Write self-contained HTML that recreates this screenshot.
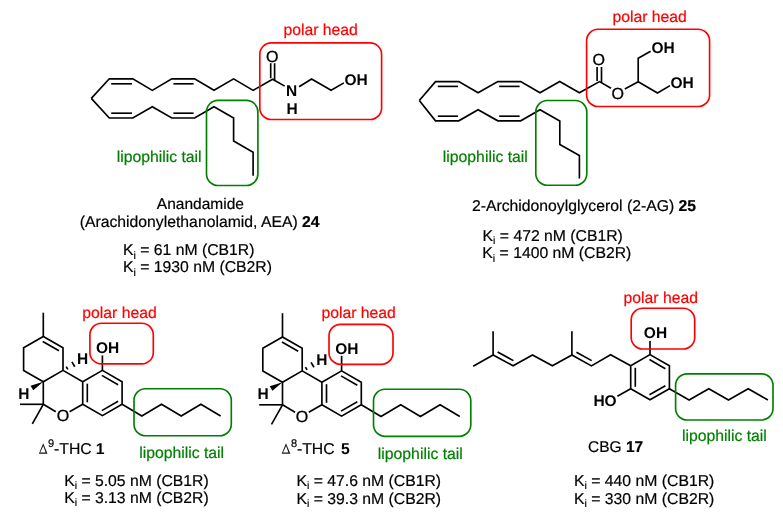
<!DOCTYPE html>
<html><head><meta charset="utf-8"><style>
html,body{margin:0;padding:0;background:#fff;}
svg{display:block;will-change:transform;}
text{font-family:"Liberation Sans", sans-serif;text-rendering:geometricPrecision;}
text.r{stroke-width:0.22px;}
</style></head><body>
<svg width="783" height="520" viewBox="0 0 783 520">
<rect width="783" height="520" fill="#fff"/>
<polyline points="91.30,98.40 109.30,78.80 132.80,78.80 152.30,90.40 171.80,78.80 194.60,78.80 214.00,90.30 233.60,78.90 253.10,90.40 272.60,79.20 284.70,86.10" fill="none" stroke="#000" stroke-width="1.65" stroke-linejoin="miter" stroke-miterlimit="10"/>
<line x1="111.20" y1="83.80" x2="132.00" y2="83.80" stroke="#000" stroke-width="1.65"/>
<line x1="173.40" y1="83.80" x2="193.60" y2="83.80" stroke="#000" stroke-width="1.65"/>
<polyline points="91.30,98.40 109.30,118.00 132.80,118.00 152.30,106.80 171.80,118.00 194.60,118.00 214.00,106.80 233.60,118.00 233.60,141.00 253.10,152.30 253.10,175.70" fill="none" stroke="#000" stroke-width="1.65" stroke-linejoin="miter" stroke-miterlimit="10"/>
<line x1="111.20" y1="113.20" x2="132.00" y2="113.20" stroke="#000" stroke-width="1.65"/>
<line x1="173.40" y1="113.20" x2="193.60" y2="113.20" stroke="#000" stroke-width="1.65"/>
<line x1="270.70" y1="63.20" x2="270.70" y2="78.20" stroke="#000" stroke-width="1.65"/>
<line x1="274.60" y1="63.20" x2="274.60" y2="80.40" stroke="#000" stroke-width="1.65"/>
<text x="266.00" y="61.60" font-size="16" fill="#000" font-weight="normal" stroke="#000" stroke-width="0.3">O</text>
<text x="286.00" y="95.60" font-size="15.5" fill="#000" font-weight="bold">N</text>
<text x="286.40" y="113.50" font-size="15.5" fill="#000" font-weight="bold">H</text>
<polyline points="299.10,86.80 311.60,79.00 331.10,90.30 343.90,82.90" fill="none" stroke="#000" stroke-width="1.65" stroke-linejoin="miter" stroke-miterlimit="10"/>
<text x="344.45" y="84.60" font-size="15.5" fill="#000" font-weight="bold">OH</text>
<rect x="259.80" y="42.90" width="121.80" height="76.60" rx="11.5" ry="11.5" fill="none" stroke="#ff0000" stroke-width="1.65"/>
<text x="283.40" y="34.80" font-size="15.75" fill="#ff0000" font-weight="normal" stroke="#ff0000" stroke-width="0.2">polar head</text>
<rect x="206.50" y="100.40" width="51.40" height="85.10" rx="11.5" ry="11.5" fill="none" stroke="#008000" stroke-width="1.65"/>
<text x="116.70" y="162.10" font-size="15.75" fill="#008000" font-weight="normal" stroke="#008000" stroke-width="0.2">lipophilic tail</text>
<text x="156.85" y="209.30" font-size="15.5" fill="#000" font-weight="normal" stroke="#000" stroke-width="0.2">Anandamide</text>
<text x="79.70" y="226.80" font-size="15.75" fill="#000" font-weight="normal" stroke="#000" stroke-width="0.2">(Arachidonylethanolamid, AEA) <tspan font-weight="bold">24</tspan></text>
<text x="122.95" y="255.30" font-size="15.75" fill="#000" font-weight="normal" stroke="#000" stroke-width="0.2">K<tspan font-size="10.5" dy="3.2">i</tspan><tspan dy="-3.2"> = 61 nM (CB1R)</tspan></text>
<text x="122.95" y="272.30" font-size="15.75" fill="#000" font-weight="normal" stroke="#000" stroke-width="0.2">K<tspan font-size="10.5" dy="3.2">i</tspan><tspan dy="-3.2"> = 1930 nM (CB2R)</tspan></text>
<polyline points="419.30,100.50 435.50,81.60 458.80,81.60 478.10,92.80 497.80,81.60 520.70,81.60 540.00,92.70 559.70,81.50 579.40,92.70 599.50,81.60 611.00,88.30" fill="none" stroke="#000" stroke-width="1.65" stroke-linejoin="miter" stroke-miterlimit="10"/>
<line x1="437.80" y1="86.40" x2="458.00" y2="86.40" stroke="#000" stroke-width="1.65"/>
<line x1="499.20" y1="86.40" x2="519.60" y2="86.40" stroke="#000" stroke-width="1.65"/>
<polyline points="419.30,100.50 435.50,120.80 458.80,120.80 478.10,109.70 497.80,120.80 520.70,120.80 540.00,109.70 559.80,121.00 559.80,144.50 579.40,155.50 579.40,178.60" fill="none" stroke="#000" stroke-width="1.65" stroke-linejoin="miter" stroke-miterlimit="10"/>
<line x1="437.80" y1="116.20" x2="458.00" y2="116.20" stroke="#000" stroke-width="1.65"/>
<line x1="499.20" y1="116.20" x2="519.60" y2="116.20" stroke="#000" stroke-width="1.65"/>
<line x1="597.10" y1="67.00" x2="597.10" y2="81.00" stroke="#000" stroke-width="1.65"/>
<line x1="601.50" y1="67.00" x2="601.50" y2="82.90" stroke="#000" stroke-width="1.65"/>
<text x="592.50" y="65.00" font-size="16" fill="#000" font-weight="normal" stroke="#000" stroke-width="0.3">O</text>
<text x="611.40" y="98.60" font-size="16" fill="#000" font-weight="normal" stroke="#000" stroke-width="0.3">O</text>
<polyline points="624.80,88.90 638.20,81.80 638.20,58.20 650.60,51.30" fill="none" stroke="#000" stroke-width="1.65" stroke-linejoin="miter" stroke-miterlimit="10"/>
<polyline points="638.20,81.80 657.50,93.00 670.00,85.60" fill="none" stroke="#000" stroke-width="1.65" stroke-linejoin="miter" stroke-miterlimit="10"/>
<text x="651.50" y="53.10" font-size="15.5" fill="#000" font-weight="bold">OH</text>
<text x="670.50" y="87.50" font-size="15.5" fill="#000" font-weight="bold">OH</text>
<rect x="586.60" y="29.20" width="123.00" height="77.30" rx="11.5" ry="11.5" fill="none" stroke="#ff0000" stroke-width="1.65"/>
<text x="612.40" y="22.10" font-size="15.75" fill="#ff0000" font-weight="normal" stroke="#ff0000" stroke-width="0.2">polar head</text>
<rect x="535.80" y="100.50" width="51.00" height="84.70" rx="11.5" ry="11.5" fill="none" stroke="#008000" stroke-width="1.65"/>
<text x="442.85" y="161.60" font-size="15.75" fill="#008000" font-weight="normal" stroke="#008000" stroke-width="0.2">lipophilic tail</text>
<text x="471.95" y="211.10" font-size="15.75" fill="#000" font-weight="normal" stroke="#000" stroke-width="0.2">2-Archidonoylglycerol (2-AG) <tspan font-weight="bold">25</tspan></text>
<text x="482.60" y="241.10" font-size="15.75" fill="#000" font-weight="normal" stroke="#000" stroke-width="0.2">K<tspan font-size="10.5" dy="3.2">i</tspan><tspan dy="-3.2"> = 472 nM (CB1R)</tspan></text>
<text x="482.35" y="258.40" font-size="15.75" fill="#000" font-weight="normal" stroke="#000" stroke-width="0.2">K<tspan font-size="10.5" dy="3.2">i</tspan><tspan dy="-3.2"> = 1400 nM (CB2R)</tspan></text>
<polyline points="63.00,370.40 63.00,347.80 43.30,336.50 23.60,347.80 23.60,370.40 43.30,381.70 63.00,370.40 82.70,381.70" fill="none" stroke="#000" stroke-width="1.65" stroke-linejoin="miter" stroke-miterlimit="10"/>
<line x1="42.75" y1="341.49" x2="58.98" y2="350.80" stroke="#000" stroke-width="1.65"/>
<line x1="43.30" y1="312.70" x2="43.30" y2="336.50" stroke="#000" stroke-width="1.65"/>
<polyline points="43.30,381.70 43.30,404.30" fill="none" stroke="#000" stroke-width="1.65" stroke-linejoin="miter" stroke-miterlimit="10"/>
<polyline points="55.80,411.80 43.30,404.30" fill="none" stroke="#000" stroke-width="1.65" stroke-linejoin="miter" stroke-miterlimit="10"/>
<polyline points="69.60,411.80 82.70,404.30" fill="none" stroke="#000" stroke-width="1.65" stroke-linejoin="miter" stroke-miterlimit="10"/>
<text x="56.65" y="421.00" font-size="16" fill="#000" font-weight="normal" stroke="#000" stroke-width="0.3">O</text>
<polyline points="82.70,381.70 102.40,370.40 122.10,381.70 122.10,404.30 102.40,415.60 82.70,404.30 82.70,381.70" fill="none" stroke="#000" stroke-width="1.65" stroke-linejoin="miter" stroke-miterlimit="10"/>
<line x1="87.30" y1="383.70" x2="87.30" y2="402.30" stroke="#000" stroke-width="1.65"/>
<line x1="101.85" y1="375.39" x2="118.08" y2="384.70" stroke="#000" stroke-width="1.65"/>
<line x1="118.08" y1="401.30" x2="101.85" y2="410.61" stroke="#000" stroke-width="1.65"/>
<line x1="20.00" y1="404.30" x2="43.30" y2="404.30" stroke="#000" stroke-width="1.65"/>
<line x1="43.30" y1="404.30" x2="32.30" y2="423.80" stroke="#000" stroke-width="1.65"/>
<line x1="102.40" y1="370.40" x2="102.40" y2="355.40" stroke="#000" stroke-width="1.65"/>
<text x="96.00" y="353.00" font-size="15.5" fill="#000" font-weight="bold">OH</text>
<polygon points="43.30,381.70 30.59,385.64 33.21,390.36" fill="#000"/>
<text x="18.20" y="398.80" font-size="15.5" fill="#000" font-weight="bold">H</text>
<line x1="66.23" y1="366.63" x2="67.86" y2="369.39" stroke="#000" stroke-width="1.7"/>
<line x1="71.90" y1="361.88" x2="74.75" y2="366.70" stroke="#000" stroke-width="1.7"/>
<text x="76.95" y="364.40" font-size="15.5" fill="#000" font-weight="bold">H</text>
<polyline points="122.10,404.30 141.80,416.00 161.50,404.20 181.20,416.00 200.90,404.20 220.60,416.00" fill="none" stroke="#000" stroke-width="1.65" stroke-linejoin="miter" stroke-miterlimit="10"/>
<rect x="89.90" y="323.20" width="63.40" height="40.70" rx="11.5" ry="11.5" fill="none" stroke="#ff0000" stroke-width="1.65"/>
<text x="82.30" y="317.70" font-size="15.75" fill="#ff0000" font-weight="normal" stroke="#ff0000" stroke-width="0.2">polar head</text>
<rect x="134.00" y="388.70" width="97.30" height="47.00" rx="11.5" ry="11.5" fill="none" stroke="#008000" stroke-width="1.65"/>
<text x="139.15" y="458.10" font-size="15.75" fill="#008000" font-weight="normal" stroke="#008000" stroke-width="0.2">lipophilic tail</text>
<path d="M38.90,453.70 L43.20,443.20 L47.50,453.70 Z M40.20,452.50 L45.60,452.50 L43.30,446.10 Z" fill="#000" fill-rule="evenodd" opacity="0.92"/>
<text x="48.10" y="447.30" font-size="11" fill="#000" font-weight="normal" stroke="#000" stroke-width="0.2">9</text>
<text x="54.10" y="453.80" font-size="15.75" fill="#000" font-weight="normal" stroke="#000" stroke-width="0.2">-THC</text>
<text x="95.85" y="453.80" font-size="15.75" fill="#000" font-weight="bold">1</text>
<text x="64.15" y="485.90" font-size="15.75" fill="#000" font-weight="normal" stroke="#000" stroke-width="0.2">K<tspan font-size="10.5" dy="3.2">i</tspan><tspan dy="-3.2"> = 5.05 nM (CB1R)</tspan></text>
<text x="64.15" y="503.00" font-size="15.75" fill="#000" font-weight="normal" stroke="#000" stroke-width="0.2">K<tspan font-size="10.5" dy="3.2">i</tspan><tspan dy="-3.2"> = 3.13 nM (CB2R)</tspan></text>
<polyline points="302.20,370.90 302.20,348.30 282.50,337.00 262.80,348.30 262.80,370.90 282.50,382.20 302.20,370.90 321.90,382.20" fill="none" stroke="#000" stroke-width="1.65" stroke-linejoin="miter" stroke-miterlimit="10"/>
<line x1="281.95" y1="341.99" x2="298.18" y2="351.30" stroke="#000" stroke-width="1.65"/>
<line x1="282.50" y1="313.20" x2="282.50" y2="337.00" stroke="#000" stroke-width="1.65"/>
<polyline points="282.50,382.20 282.50,404.80" fill="none" stroke="#000" stroke-width="1.65" stroke-linejoin="miter" stroke-miterlimit="10"/>
<polyline points="295.00,412.30 282.50,404.80" fill="none" stroke="#000" stroke-width="1.65" stroke-linejoin="miter" stroke-miterlimit="10"/>
<polyline points="308.80,412.30 321.90,404.80" fill="none" stroke="#000" stroke-width="1.65" stroke-linejoin="miter" stroke-miterlimit="10"/>
<text x="295.85" y="421.50" font-size="16" fill="#000" font-weight="normal" stroke="#000" stroke-width="0.3">O</text>
<polyline points="321.90,382.20 341.60,370.90 361.30,382.20 361.30,404.80 341.60,416.10 321.90,404.80 321.90,382.20" fill="none" stroke="#000" stroke-width="1.65" stroke-linejoin="miter" stroke-miterlimit="10"/>
<line x1="326.50" y1="384.20" x2="326.50" y2="402.80" stroke="#000" stroke-width="1.65"/>
<line x1="341.05" y1="375.89" x2="357.28" y2="385.20" stroke="#000" stroke-width="1.65"/>
<line x1="357.28" y1="401.80" x2="341.05" y2="411.11" stroke="#000" stroke-width="1.65"/>
<line x1="259.20" y1="404.80" x2="282.50" y2="404.80" stroke="#000" stroke-width="1.65"/>
<line x1="282.50" y1="404.80" x2="271.50" y2="424.30" stroke="#000" stroke-width="1.65"/>
<line x1="341.60" y1="370.90" x2="341.60" y2="355.90" stroke="#000" stroke-width="1.65"/>
<text x="335.20" y="353.50" font-size="15.5" fill="#000" font-weight="bold">OH</text>
<polygon points="282.50,382.20 269.79,386.14 272.41,390.86" fill="#000"/>
<text x="257.40" y="399.30" font-size="15.5" fill="#000" font-weight="bold">H</text>
<line x1="305.43" y1="367.13" x2="307.06" y2="369.89" stroke="#000" stroke-width="1.7"/>
<line x1="311.10" y1="362.38" x2="313.95" y2="367.20" stroke="#000" stroke-width="1.7"/>
<text x="316.15" y="364.90" font-size="15.5" fill="#000" font-weight="bold">H</text>
<polyline points="361.30,404.80 381.00,416.50 400.70,404.70 420.40,416.50 440.10,404.70 459.80,416.50" fill="none" stroke="#000" stroke-width="1.65" stroke-linejoin="miter" stroke-miterlimit="10"/>
<rect x="329.00" y="324.30" width="64.00" height="40.00" rx="11.5" ry="11.5" fill="none" stroke="#ff0000" stroke-width="1.65"/>
<text x="321.40" y="318.40" font-size="15.75" fill="#ff0000" font-weight="normal" stroke="#ff0000" stroke-width="0.2">polar head</text>
<rect x="373.50" y="389.20" width="97.30" height="47.10" rx="11.5" ry="11.5" fill="none" stroke="#008000" stroke-width="1.65"/>
<text x="377.85" y="459.20" font-size="15.75" fill="#008000" font-weight="normal" stroke="#008000" stroke-width="0.2">lipophilic tail</text>
<path d="M281.70,453.70 L286.00,443.20 L290.30,453.70 Z M283.00,452.50 L288.40,452.50 L286.10,446.10 Z" fill="#000" fill-rule="evenodd" opacity="0.92"/>
<text x="290.90" y="447.30" font-size="11" fill="#000" font-weight="normal" stroke="#000" stroke-width="0.2">8</text>
<text x="296.90" y="453.80" font-size="15.75" fill="#000" font-weight="normal" stroke="#000" stroke-width="0.2">-THC</text>
<text x="340.95" y="453.80" font-size="15.75" fill="#000" font-weight="bold">5</text>
<text x="296.50" y="485.90" font-size="15.75" fill="#000" font-weight="normal" stroke="#000" stroke-width="0.2">K<tspan font-size="10.5" dy="3.2">i</tspan><tspan dy="-3.2"> = 47.6 nM (CB1R)</tspan></text>
<text x="296.50" y="504.10" font-size="15.75" fill="#000" font-weight="normal" stroke="#000" stroke-width="0.2">K<tspan font-size="10.5" dy="3.2">i</tspan><tspan dy="-3.2"> = 39.3 nM (CB2R)</tspan></text>
<polyline points="473.20,366.20 493.10,355.00 513.10,365.80 532.50,355.00 552.40,365.70 571.90,355.00 591.40,365.90 610.60,354.70 630.70,365.80" fill="none" stroke="#000" stroke-width="1.65" stroke-linejoin="miter" stroke-miterlimit="10"/>
<line x1="493.10" y1="331.20" x2="493.10" y2="355.00" stroke="#000" stroke-width="1.65"/>
<line x1="571.90" y1="331.20" x2="571.90" y2="355.00" stroke="#000" stroke-width="1.65"/>
<line x1="497.62" y1="352.10" x2="513.40" y2="360.62" stroke="#000" stroke-width="1.65"/>
<line x1="576.46" y1="352.16" x2="591.66" y2="360.62" stroke="#000" stroke-width="1.65"/>
<polyline points="630.70,365.80 650.00,354.60 669.40,365.70 669.40,388.80 650.00,399.80 630.70,388.80 630.70,365.80" fill="none" stroke="#000" stroke-width="1.65" stroke-linejoin="miter" stroke-miterlimit="10"/>
<line x1="635.30" y1="367.80" x2="635.30" y2="386.80" stroke="#000" stroke-width="1.65"/>
<line x1="649.45" y1="359.59" x2="665.38" y2="368.70" stroke="#000" stroke-width="1.65"/>
<line x1="649.47" y1="394.81" x2="665.39" y2="385.78" stroke="#000" stroke-width="1.65"/>
<line x1="650.00" y1="354.60" x2="650.00" y2="341.00" stroke="#000" stroke-width="1.65"/>
<text x="643.85" y="338.10" font-size="15.5" fill="#000" font-weight="bold">OH</text>
<polyline points="630.70,388.80 617.40,396.20" fill="none" stroke="#000" stroke-width="1.65" stroke-linejoin="miter" stroke-miterlimit="10"/>
<text x="593.40" y="405.80" font-size="15.5" fill="#000" font-weight="bold">HO</text>
<polyline points="669.40,388.80 689.10,400.00 708.80,388.80 728.50,400.00 748.20,388.80 767.90,400.00" fill="none" stroke="#000" stroke-width="1.65" stroke-linejoin="miter" stroke-miterlimit="10"/>
<rect x="631.20" y="308.20" width="63.50" height="40.80" rx="11.5" ry="11.5" fill="none" stroke="#ff0000" stroke-width="1.65"/>
<text x="623.60" y="303.00" font-size="15.75" fill="#ff0000" font-weight="normal" stroke="#ff0000" stroke-width="0.2">polar head</text>
<rect x="675.60" y="373.80" width="97.40" height="46.20" rx="11.5" ry="11.5" fill="none" stroke="#008000" stroke-width="1.65"/>
<text x="681.90" y="440.80" font-size="15.75" fill="#008000" font-weight="normal" stroke="#008000" stroke-width="0.2">lipophilic tail</text>
<text x="588.00" y="452.20" font-size="15.5" fill="#000" font-weight="normal" stroke="#000" stroke-width="0.2">CBG <tspan font-weight="bold">17</tspan></text>
<text x="574.05" y="486.10" font-size="15.75" fill="#000" font-weight="normal" stroke="#000" stroke-width="0.2">K<tspan font-size="10.5" dy="3.2">i</tspan><tspan dy="-3.2"> = 440 nM (CB1R)</tspan></text>
<text x="574.05" y="503.60" font-size="15.75" fill="#000" font-weight="normal" stroke="#000" stroke-width="0.2">K<tspan font-size="10.5" dy="3.2">i</tspan><tspan dy="-3.2"> = 330 nM (CB2R)</tspan></text>
</svg>
</body></html>
